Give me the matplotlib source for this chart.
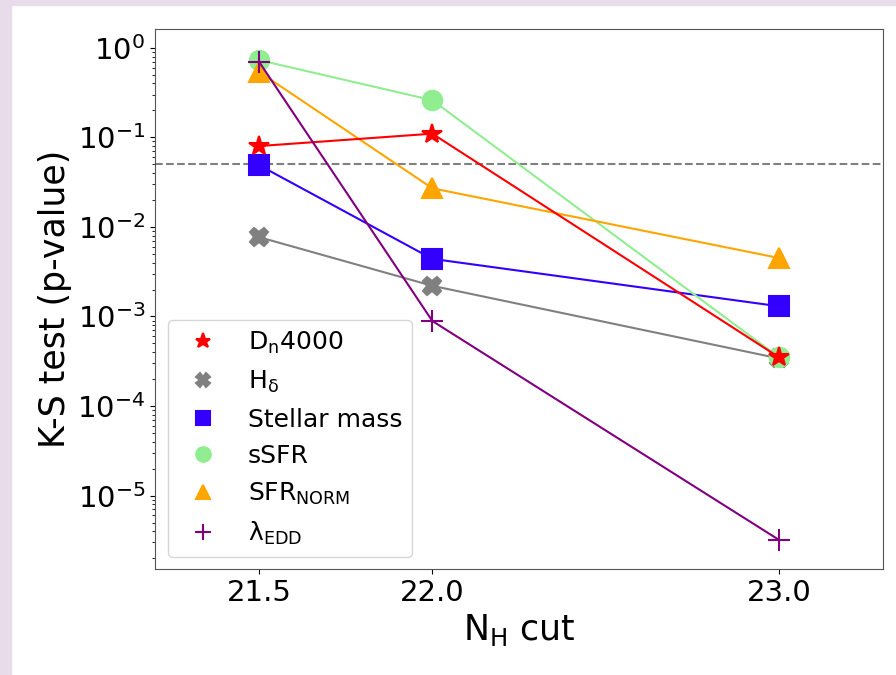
import numpy as np
import matplotlib
matplotlib.use("Agg")
import matplotlib.pyplot as plt
from matplotlib.patches import Rectangle
from matplotlib.lines import Line2D

# N_H cuts and K-S p-values
nh_cut = [21.5, 22.0, 23.0]
dn4000 = [0.080, 0.11, 3.5e-4]
hdelta = [0.0077, 0.0022, 3.4e-4]
stellar_mass = [0.049, 0.0044, 0.0013]
ssfr = [0.73, 0.26, 3.5e-4]
sfr_norm = [0.54, 0.027, 0.0045]
lambda_edd = [0.70, 0.00089, 3.2e-6]
threshold = 0.05

labels = [r"D$_\mathregular{n}$4000", r"H$_\mathregular{\delta}$", "Stellar mass",
          "sSFR", r"SFR$_\mathregular{NORM}$", r"$\mathregular{\lambda_{EDD}}$"]

plt.rcParams['font.family'] = ['DejaVu Sans']
plt.rcParams['mathtext.fontset'] = 'dejavusans'

fig = plt.figure(figsize=(8.96, 6.75), dpi=100)
# purple frame strips at left and top of the screenshot
fig.patches.append(Rectangle((0, 0), 11/896, 1, transform=fig.transFigure,
                             color='#e8dcea', zorder=-10))
fig.patches.append(Rectangle((0, 1-5/675), 1, 5/675, transform=fig.transFigure,
                             color='#e8dcea', zorder=-10))

ax = fig.add_axes([0.173, 0.157, 0.8125, 0.80])

series = [dn4000, hdelta, stellar_mass, ssfr, sfr_norm, lambda_edd]
colors = ['red', 'gray', '#3300ff', 'lightgreen', 'orange', 'purple']
markers = ['*', 'X', 's', 'o', '^', '+']
sizes = [15, 13, 14, 14, 14, 16]
zorders = [8, 3, 4, 5, 6, 9]

handles = []
for y, c, m, ms, z, lab in zip(series, colors, markers, sizes, zorders, labels):
    ax.plot(nh_cut, y, color=c, marker=m, ms=ms, mew=1.5, lw=1.5, zorder=z)
    handles.append(Line2D([], [], color=c, marker=m, ms=ms, mew=1.5, ls='none', label=lab))

ax.axhline(threshold, color='gray', ls='--', lw=1.5, zorder=1)

ax.set_yscale('log')
ax.set_xlim(21.2, 23.3)
ax.set_ylim(10**-5.82, 10**0.21)
ax.set_xticks(nh_cut)
ax.set_xticklabels(["21.5", "22.0", "23.0"])
ax.tick_params(labelsize=21)
for s in ax.spines.values():
    s.set_color('#555555')

ax.set_xlabel(r"N$_\mathregular{H}$ cut", fontsize=25)
ax.set_ylabel("K-S test (p-value)", fontsize=25)

ax.legend(handles=handles, loc='lower left', fontsize=18, markerscale=0.75,
          labelspacing=0.5, borderpad=0.4)

fig.savefig("out.png", dpi=100)
